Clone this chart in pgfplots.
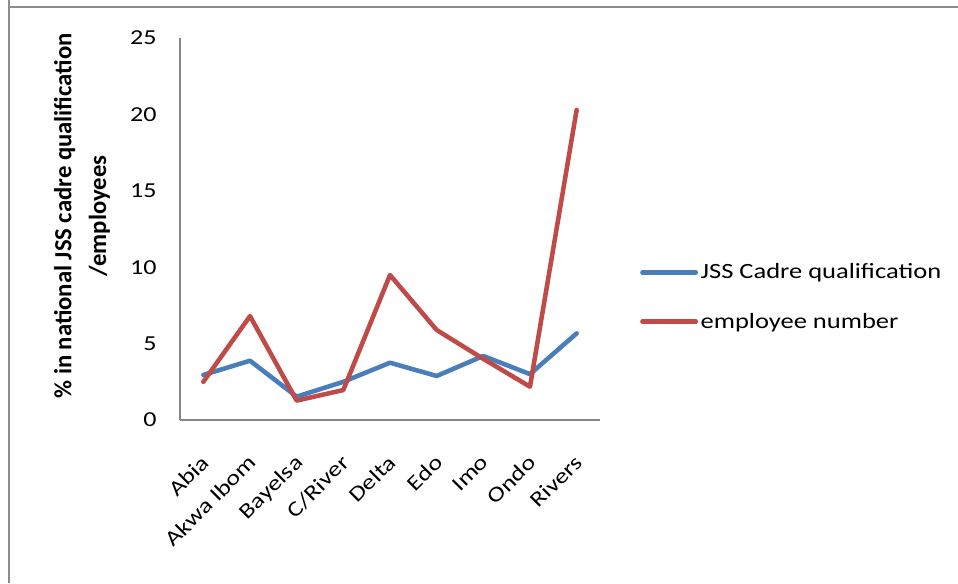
\documentclass[border=0pt]{standalone}
\usepackage{pgfplots}
\pgfplotsset{compat=1.18}
\usepackage{fontspec}
\setmainfont{Carlito}[FakeStretch=1.22]
\newfontfamily\labelfont{Carlito}
\definecolor{seriesblue}{HTML}{4A7EBB}
\definecolor{seriesred}{HTML}{BE4B48}
\definecolor{framegray}{HTML}{8C8C8C}
\definecolor{axisgray}{HTML}{868686}
\begin{document}
\begin{tikzpicture}[x=0.75pt,y=0.75pt]
% page area and the frame along the top and left
\path[use as bounding box] (0,0) rectangle (958,583);
\draw[framegray, line width=1.5pt] (9,583) -- (9,576) -- (958,576);
\draw[framegray, line width=1.5pt] (9,576) -- (9,0);
\begin{axis}[
  at={(135pt,122.25pt)}, anchor=south west,
  scale only axis,
  width=315pt, height=286.5pt,
  xmin=-0.5, xmax=8.5,
  ymin=0, ymax=25,
  ytick={0,5,...,25},
  xtick=data,
  xticklabels={Abia,Akwa Ibom,Bayelsa,C/River,Delta,Edo,Imo,Ondo,Rivers},
  axis x line*=bottom, axis y line*=left,
  axis line style={axisgray, line width=0.9pt, -},
  major tick length=0pt,
  /pgf/number format/assume math mode=true,
  tick label style={font=\fontsize{16}{19}\selectfont, black},
  yticklabel style={xshift=-14pt},
  xticklabel style={xshift=-2.5pt, yshift=-25pt, rotate=45, anchor=north east, inner sep=0pt},
  ylabel={\% in national JSS cadre qualification\\/employees},
  every axis y label/.style={at={(rel axis cs:0,0.534)}, xshift=-73.5pt, rotate=90, anchor=center,
    align=center, font=\labelfont\bfseries\fontsize{18.5}{26}\selectfont},
  legend style={draw=none, fill=none, at={(1.095,0.322)}, anchor=west,
    font=\fontsize{16.3}{19}\selectfont, row sep=20pt, inner sep=0pt},
  legend cell align=left,
  legend image code/.code={\draw[#1, line cap=round] (0pt,0pt) -- (40pt,0pt);},
  clip=false,
]
\addplot[seriesblue, line width=3.4pt, line join=round, line cap=round] coordinates {
  (0,2.95) (1,3.88) (2,1.53) (3,2.5) (4,3.75) (5,2.88) (6,4.19) (7,3.0) (8,5.67)
};
\addlegendentry{JSS Cadre qualification}
\addplot[seriesred, line width=3.4pt, line join=round, line cap=round] coordinates {
  (0,2.5) (1,6.8) (2,1.27) (3,1.96) (4,9.49) (5,5.89) (6,4.0) (7,2.18) (8,20.3)
};
\addlegendentry{employee number}
\end{axis}
\end{tikzpicture}
\end{document}
